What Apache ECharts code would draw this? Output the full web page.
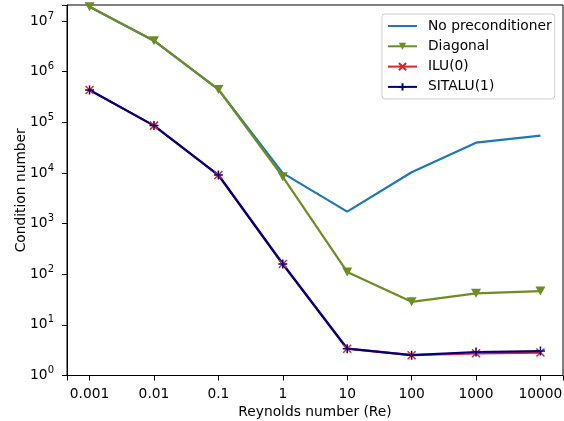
<!DOCTYPE html>
<html><head><meta charset="utf-8">
<script src="https://cdn.jsdelivr.net/npm/echarts@6/dist/echarts.min.js"></script>
<style>html,body{margin:0;padding:0;background:#fff}#c{width:564px;height:421px}</style>
</head><body><div id="c"></div>
<script>
// ---- data ----
const reynolds = [0.001, 0.01, 0.1, 1, 10, 100, 1000, 10000];
const xTickLabels = ['0.001', '0.01', '0.1', '1', '10', '100', '1000', '10000'];
const yTickExponents = [0, 1, 2, 3, 4, 5, 6, 7];
const seriesNames = ['No preconditioner', 'Diagonal', 'ILU(0)', 'SITALU(1)'];
const noPrecond = [1.92e7, 4.08e6, 4.45e5, 9.9e3, 1.72e3, 1.03e4, 3.95e4, 5.44e4];
const diagonal  = [1.92e7, 4.08e6, 4.45e5, 8.4e3, 111, 28.5, 42, 46.5];
const ilu0      = [4.34e5, 8.6e4, 9.1e3, 159, 3.38, 2.52, 2.74, 2.84];
const sitalu1   = [4.34e5, 8.6e4, 9.1e3, 159, 3.38, 2.52, 2.91, 3.04];

// ---- axis ranges ----
const xMin = Math.pow(10, -3.35), xMax = Math.pow(10, 4.35);
const yMin = 1, yMax = 2.07e7;

const FONT = 'DejaVu Sans';
const FS = 13.8;

function pairs(vals) { return reynolds.map((r, i) => [r, vals[i]]); }
function xLabel(v) {
  const i = reynolds.findIndex(r => Math.abs(Math.log10(r) - Math.log10(v)) < 1e-6);
  return i >= 0 ? xTickLabels[i] : '';
}
function yLabel(v) {
  const e = Math.log10(v);
  const k = yTickExponents.find(t => Math.abs(t - e) < 1e-6);
  return k === undefined ? '' : '{b|10}{s|' + k + '}';
}

const triDown = 'path://M0,0L10,0L5,9Z';
const xMark = 'path://M0,0L10,10M10,0L0,10';
const plusMark = 'path://M5,0L5,10M0,5L10,5';

const chart = echarts.init(document.getElementById('c'), null, {renderer: 'canvas'});
chart.setOption({
  animation: false,
  backgroundColor: '#fff',
  textStyle: {fontFamily: FONT},
  grid: {left: 67, right: 1, top: 5, bottom: 45.5, containLabel: false, outerBoundsMode: 'none',
         show: true, borderColor: '#000', borderWidth: 1, backgroundColor: 'transparent'},
  xAxis: {
    type: 'log', logBase: 10, min: xMin, max: xMax,
    name: 'Reynolds number (Re)', nameLocation: 'middle', nameGap: 29.5, nameMoveOverlap: false,
    nameTextStyle: {fontFamily: FONT, fontSize: FS, color: '#000'},
    axisLine: {lineStyle: {color: '#000', width: 1}},
    axisTick: {show: true, length: 5, lineStyle: {color: '#000', width: 1}},
    axisLabel: {formatter: xLabel, fontFamily: FONT, fontSize: FS, color: '#000', margin: 12},
    splitLine: {show: false}, minorTick: {show: false}
  },
  yAxis: {
    type: 'log', logBase: 10, min: yMin, max: yMax,
    name: 'Condition number', nameLocation: 'middle', nameGap: 39, nameRotate: 90, nameMoveOverlap: false,
    nameTextStyle: {fontFamily: FONT, fontSize: FS, color: '#000'},
    axisLine: {lineStyle: {color: '#000', width: 1}},
    axisTick: {show: true, length: 5, lineStyle: {color: '#000', width: 1}},
    axisLabel: {
      formatter: yLabel, margin: 13, color: '#000',
      rich: {
        b: {fontFamily: FONT, fontSize: FS, color: '#000', lineHeight: 20},
        s: {fontFamily: FONT, fontSize: 10, color: '#000', verticalAlign: 'top'}
      }
    },
    splitLine: {show: false}, minorTick: {show: false}
  },
  legend: {
    orient: 'vertical', left: 382, top: 14,
    padding: [5, 3, 5, 5],
    itemWidth: 29, itemHeight: 9, itemGap: 6.3,
    backgroundColor: 'rgba(255,255,255,0.8)', borderColor: '#ccc', borderWidth: 1, borderRadius: 3,
    textStyle: {fontFamily: FONT, fontSize: FS, color: '#000', lineHeight: 14, padding: [0, 0, 0, 6]},
    data: [
      {name: seriesNames[0], itemStyle: {opacity: 0}},
      {name: seriesNames[1]},
      {name: seriesNames[2]},
      {name: seriesNames[3]}
    ]
  },
  series: [
    {name: seriesNames[0], type: 'line', data: pairs(noPrecond), symbol: 'none',
     lineStyle: {color: '#1f77b4', width: 2.2}, itemStyle: {color: '#1f77b4'}},
    {name: seriesNames[1], type: 'line', data: pairs(diagonal), symbol: triDown, symbolSize: [10, 9],
     lineStyle: {color: '#6b8e23', width: 2.2}, itemStyle: {color: '#6b8e23', borderColor: '#6b8e23', borderWidth: 0}},
    {name: seriesNames[2], type: 'line', data: pairs(ilu0), symbol: xMark, symbolSize: 8,
     lineStyle: {color: '#d62728', width: 2.2}, itemStyle: {color: '#d62728', borderColor: '#d62728', borderWidth: 1.5}},
    {name: seriesNames[3], type: 'line', data: pairs(sitalu1), symbol: plusMark, symbolSize: 9,
     lineStyle: {color: '#000080', width: 2.2}, itemStyle: {color: '#000080', borderColor: '#000080', borderWidth: 1.5}}
  ]
});
</script>
</body></html>
